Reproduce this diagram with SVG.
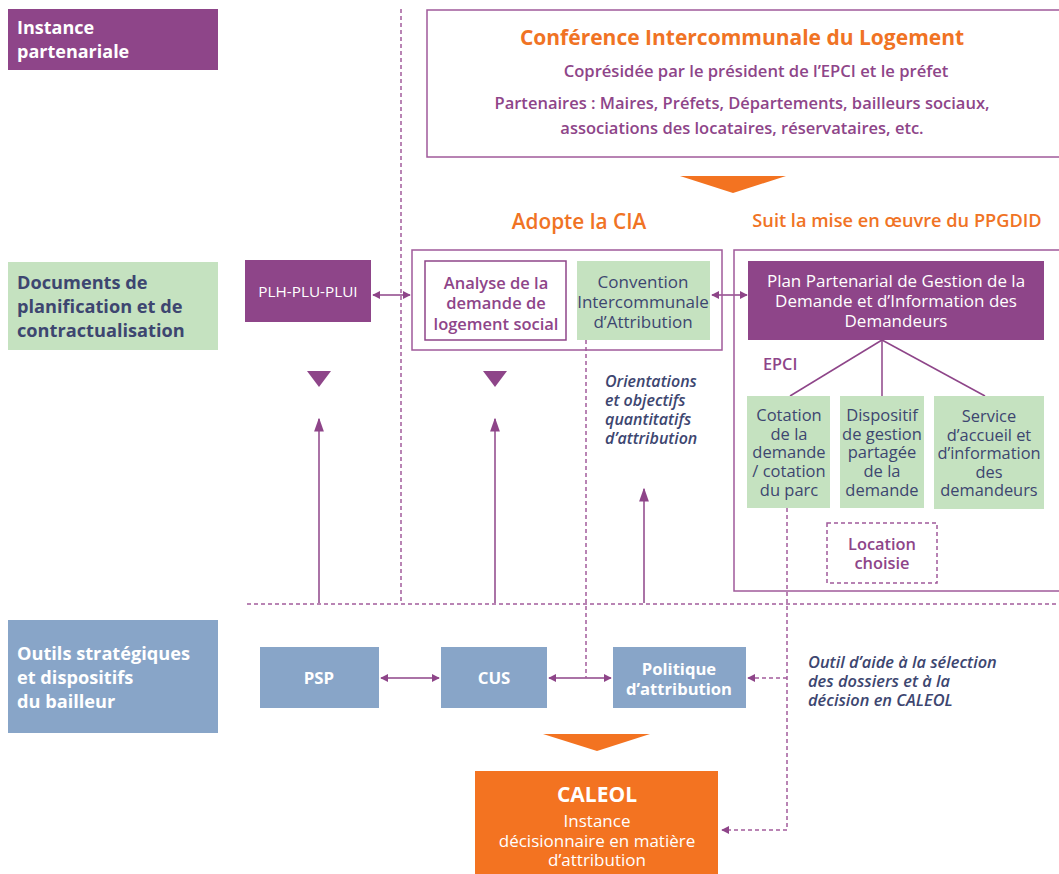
<svg xmlns="http://www.w3.org/2000/svg" width="1059" height="874" viewBox="0 0 1059 874">
<defs>
<style>
text{font-family:"Open Sans","Noto Sans","Liberation Sans",sans-serif;text-anchor:middle}
.w{fill:#fff}
.p{fill:#8e4589}
.n{fill:#3d4670}
.o{fill:#f07324}
.b{font-weight:700}
.sb{font-weight:600}
.it{font-style:italic;font-weight:600;text-anchor:start;fill:#3d4670}
.purple{fill:#8e4589}
.green{fill:#c5e2c0}
.blue{fill:#88a5c8}
.orange{fill:#f37321}
.line{stroke:#8e4589;stroke-width:1.5;fill:none}
.dash{stroke:#a25c9c;stroke-width:1.5;fill:none;stroke-dasharray:4 3}
</style>
<marker id="ah" viewBox="0 0 10 10" refX="9" refY="5" markerWidth="8" markerHeight="8" orient="auto-start-reverse" markerUnits="userSpaceOnUse">
<path d="M0,0 L10,5 L0,10 z" fill="#8e4589"/>
</marker>
<marker id="ahu" viewBox="0 0 10 10" refX="9" refY="5" markerWidth="14" markerHeight="14" orient="auto" markerUnits="userSpaceOnUse">
<path d="M0,1.5 L10,5 L0,8.5 z" fill="#8e4589"/>
</marker>
</defs>
<rect width="1059" height="874" fill="#fff"/>

<g id="connectors">
<line class="dash" x1="401" y1="9" x2="401" y2="604"/>
<line class="dash" x1="247" y1="604" x2="1059" y2="604"/>
<line class="line" x1="373" y1="295" x2="410" y2="295" marker-start="url(#ah)" marker-end="url(#ah)"/>
<line class="line" x1="712" y1="295" x2="747" y2="295" marker-start="url(#ah)" marker-end="url(#ah)"/>
<line class="line" x1="882" y1="340" x2="790" y2="396"/>
<line class="line" x1="882" y1="340" x2="882" y2="396"/>
<line class="line" x1="882" y1="340" x2="985" y2="396"/>
<line class="line" x1="319" y1="603" x2="319" y2="419" marker-end="url(#ahu)"/>
<line class="line" x1="495" y1="603" x2="495" y2="419" marker-end="url(#ahu)"/>
<line class="line" x1="644" y1="603" x2="644" y2="489" marker-end="url(#ahu)"/>
<line class="line" x1="381" y1="678" x2="439" y2="678" marker-start="url(#ah)" marker-end="url(#ah)"/>
<line class="line" x1="549" y1="678" x2="611" y2="678" marker-start="url(#ah)" marker-end="url(#ah)"/>
<line class="dash" x1="586" y1="340" x2="586" y2="678"/>
<polyline class="dash" points="787,508 787,830 722,830" marker-end="url(#ah)"/>
<line class="dash" x1="787" y1="678" x2="748" y2="678" marker-end="url(#ah)"/>
<polygon points="307,371 331,371 319,387" fill="#8e4589"/>
<polygon points="483,371 507,371 495,387" fill="#8e4589"/>
<polygon points="680,176 786,176 733,193" fill="#f37321"/>
<polygon points="543,734 650,734 597,751" fill="#f37321"/>
</g>

<g id="instance-partenariale">
<rect class="purple" x="8" y="9" width="210" height="61"/>
<text class="w b" x="17" y="34" font-size="18" style="text-anchor:start">Instance</text>
<text class="w b" x="17" y="58" font-size="18" style="text-anchor:start">partenariale</text>
</g>

<g id="cil">
<rect x="427" y="10" width="640" height="147" fill="#fff" stroke="#a05a9a" stroke-width="1.5"/>
<text class="o b" x="742" y="45" font-size="21">Conférence Intercommunale du Logement</text>
<text class="p sb" x="756" y="77" font-size="16.6">Coprésidée par le président de l’EPCI et le préfet</text>
<text class="p sb" x="742" y="109" font-size="16.5">Partenaires : Maires, Préfets, Départements, bailleurs sociaux,</text>
<text class="p sb" x="742" y="134" font-size="16.5">associations des locataires, réservataires, etc.</text>
</g>

<g id="labels">
<text class="o sb" x="579" y="229" font-size="20.8">Adopte la CIA</text>
<text class="o sb" x="897" y="227" font-size="18.2">Suit la mise en œuvre du PPGDID</text>
<text class="p sb" x="763" y="370" font-size="16.3" style="text-anchor:start">EPCI</text>
<text class="it" x="605" y="387" font-size="16">Orientations</text>
<text class="it" x="605" y="406" font-size="16">et objectifs</text>
<text class="it" x="605" y="425" font-size="16">quantitatifs</text>
<text class="it" x="605" y="444" font-size="16">d’attribution</text>
<text class="it" x="808" y="668" font-size="16.4">Outil d’aide à la sélection</text>
<text class="it" x="808" y="687" font-size="16.4">des dossiers et à la</text>
<text class="it" x="808" y="706" font-size="16.4">décision en CALEOL</text>
</g>

<g id="documents">
<rect class="green" x="8" y="262" width="210" height="88"/>
<text class="n b" x="17" y="289" font-size="18.2" style="text-anchor:start">Documents de</text>
<text class="n b" x="17" y="313" font-size="18.2" style="text-anchor:start">planification et de</text>
<text class="n b" x="17" y="337" font-size="18.2" style="text-anchor:start">contractualisation</text>
</g>

<g id="plh">
<rect class="purple" x="245" y="260" width="126" height="62"/>
<text class="w" x="308" y="297" font-size="15.3">PLH-PLU-PLUI</text>
</g>

<g id="cia-group">
<rect x="412" y="250" width="310" height="100" fill="none" stroke="#a05a9a" stroke-width="1.5"/>
</g>

<g id="analyse">
<rect x="425" y="261" width="141" height="79" fill="#fff" stroke="#8e4589" stroke-width="1.5"/>
<text class="p sb" x="496" y="289" font-size="16.5">Analyse de la</text>
<text class="p sb" x="496" y="309" font-size="16.5">demande de</text>
<text class="p sb" x="496" y="330" font-size="16.5">logement social</text>
</g>

<g id="convention">
<rect class="green" x="577" y="261" width="133" height="79"/>
<text class="n" x="643" y="288" font-size="17">Convention</text>
<text class="n" x="643" y="308" font-size="17">Intercommunale</text>
<text class="n" x="643" y="328" font-size="17">d’Attribution</text>
</g>

<g id="ppgdid-group">
<rect x="734" y="250" width="340" height="341" fill="none" stroke="#a05a9a" stroke-width="1.5"/>
</g>

<g id="ppgdid">
<rect class="purple" x="748" y="261" width="296" height="79"/>
<text class="w" x="896" y="287" font-size="17">Plan Partenarial de Gestion de la</text>
<text class="w" x="896" y="307" font-size="17">Demande et d’Information des</text>
<text class="w" x="896" y="327" font-size="17">Demandeurs</text>
</g>

<g id="cotation">
<rect class="green" x="747" y="396" width="83" height="112"/>
<text class="n" x="789" y="421" font-size="16.5">Cotation</text>
<text class="n" x="789" y="440" font-size="16.5">de la</text>
<text class="n" x="789" y="458" font-size="16.5">demande</text>
<text class="n" x="789" y="477" font-size="16.5">/ cotation</text>
<text class="n" x="789" y="496" font-size="16.5">du parc</text>
</g>

<g id="dispositif">
<rect class="green" x="840" y="396" width="84" height="112"/>
<text class="n" x="882" y="421" font-size="16.5">Dispositif</text>
<text class="n" x="882" y="440" font-size="16.5">de gestion</text>
<text class="n" x="882" y="458" font-size="16.5">partagée</text>
<text class="n" x="882" y="477" font-size="16.5">de la</text>
<text class="n" x="882" y="496" font-size="16.5">demande</text>
</g>

<g id="service">
<rect class="green" x="934" y="396" width="110" height="113"/>
<text class="n" x="989" y="422" font-size="16.4">Service</text>
<text class="n" x="989" y="441" font-size="16.4">d’accueil et</text>
<text class="n" x="989" y="459" font-size="16.4">d’information</text>
<text class="n" x="989" y="478" font-size="16.4">des</text>
<text class="n" x="989" y="496" font-size="16.4">demandeurs</text>
</g>

<g id="location">
<rect x="827" y="523" width="110" height="60" fill="none" stroke="#a05a9a" stroke-width="1.5" stroke-dasharray="4 3"/>
<text class="p sb" x="882" y="550" font-size="16.4">Location</text>
<text class="p sb" x="882" y="569" font-size="16.4">choisie</text>
</g>

<g id="outils">
<rect class="blue" x="8" y="620" width="210" height="113"/>
<text class="w b" x="17" y="660" font-size="18.2" style="text-anchor:start">Outils stratégiques</text>
<text class="w b" x="17" y="684" font-size="18.2" style="text-anchor:start">et dispositifs</text>
<text class="w b" x="17" y="708" font-size="18.2" style="text-anchor:start">du bailleur</text>
</g>

<g id="psp">
<rect class="blue" x="260" y="647" width="119" height="61"/>
<text class="w b" x="319" y="684" font-size="16.8">PSP</text>
</g>

<g id="cus">
<rect class="blue" x="441" y="647" width="106" height="61"/>
<text class="w b" x="494" y="684" font-size="16.8">CUS</text>
</g>

<g id="politique">
<rect class="blue" x="613" y="647" width="133" height="61"/>
<text class="w b" x="679" y="675" font-size="16.6">Politique</text>
<text class="w b" x="679" y="695" font-size="16.6">d’attribution</text>
</g>

<g id="caleol">
<rect class="orange" x="475" y="771" width="243" height="103"/>
<text class="w b" x="597" y="802" font-size="21">CALEOL</text>
<text class="w" x="597" y="827" font-size="17">Instance</text>
<text class="w" x="597" y="847" font-size="17">décisionnaire en matière</text>
<text class="w" x="597" y="866" font-size="17">d’attribution</text>
</g>
</svg>
